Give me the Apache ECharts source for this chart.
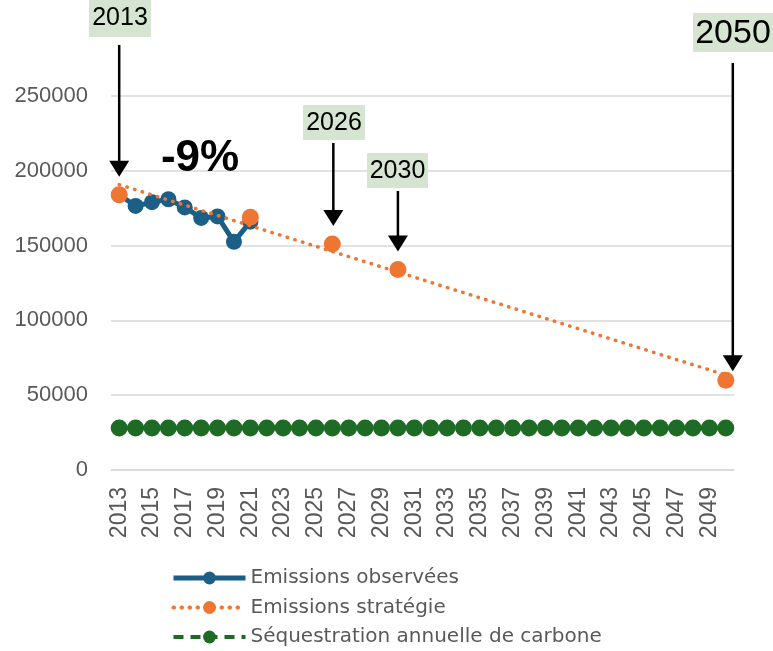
<!DOCTYPE html>
<html><head><meta charset="utf-8">
<script src="https://cdn.jsdelivr.net/npm/echarts@6/dist/echarts.min.js"></script>
<style>html,body{margin:0;padding:0;background:#fff}#c{width:773px;height:651px}</style>
</head><body><div id="c"></div>
<script>
const years = ['2013','2014','2015','2016','2017','2018','2019','2020','2021','2022','2023','2024','2025','2026','2027','2028','2029','2030','2031','2032','2033','2034','2035','2036','2037','2038','2039','2040','2041','2042','2043','2044','2045','2046','2047','2048','2049','2050'];
const observedYears = ['2013','2014','2015','2016','2017','2018','2019','2020','2021'];
const observedValues = [184000,176500,179000,181000,175500,168500,169500,152500,166000];
const strategyYears = ['2013','2021','2026','2030','2050'];
const strategyValues = [184000,169000,151000,134000,60000];
const trendYears = ['2013','2050'];
const trendValues = [190800,63500];
const sequestration = [28000,28000,28000,28000,28000,28000,28000,28000,28000,28000,28000,28000,28000,28000,28000,28000,28000,28000,28000,28000,28000,28000,28000,28000,28000,28000,28000,28000,28000,28000,28000,28000,28000,28000,28000,28000,28000,28000];
const yTicks = [0,50000,100000,150000,200000,250000];
const calloutYears = ['2013','2026','2030','2050'];
const calloutLabels = ['2013','2026','2030','2050'];
const changeLabel = '-9%';

const BLUE = '#1b5f86', ORANGE = '#ee7632', GREEN = '#1d6b25';
const chart = echarts.init(document.getElementById('c'));
const option = {
  animation: false,
  grid: {left: 111, right: 39, top: 96, bottom: 181},
  legend: {
    orient: 'vertical', left: 166, top: 563, height: 100, itemGap: 9.5,
    itemWidth: 72, itemHeight: 16,
    textStyle: {fontFamily: 'DejaVu Sans', fontSize: 20, color: '#595959', lineHeight: 20},
    data: [
      {name: 'Emissions observées', lineStyle: {width: 5}},
      {name: 'Emissions stratégie', lineStyle: {width: 4}},
      {name: 'Séquestration annuelle de carbone', lineStyle: {width: 4}}
    ]
  },
  xAxis: {
    type: 'category', data: years, boundaryGap: true,
    axisLine: {show: true, lineStyle: {color: '#d9d9d9', width: 1.5}},
    axisTick: {show: false},
    axisLabel: {rotate: 90, interval: 1, margin: 17, hideOverlap: false, fontFamily: 'Liberation Sans', fontSize: 23, color: '#595959'}
  },
  yAxis: {
    type: 'value', min: yTicks[0], max: yTicks[yTicks.length-1], interval: yTicks[1]-yTicks[0],
    axisLine: {show: false}, axisTick: {show: false},
    splitLine: {lineStyle: {color: '#d9d9d9', width: 1.5}},
    axisLabel: {margin: 23, fontFamily: 'Liberation Sans', fontSize: 22, color: '#595959', formatter: v => String(v)}
  },
  series: [
    {
      name: 'Séquestration annuelle de carbone', type: 'line',
      data: years.map((y, i) => [y, sequestration[i]]),
      symbol: 'circle', symbolSize: 17, showAllSymbol: true, itemStyle: {color: GREEN},
      lineStyle: {color: GREEN, width: 4, type: [10, 7]}, z: 2
    },
    {
      name: 'Emissions observées', type: 'line',
      data: observedYears.map((y, i) => [y, observedValues[i]]),
      symbol: 'circle', symbolSize: 16, showAllSymbol: true, itemStyle: {color: BLUE},
      lineStyle: {color: BLUE, width: 5}, z: 3
    },
    {
      name: 'Emissions stratégie', type: 'line',
      data: trendYears.map((y, i) => [y, trendValues[i]]),
      symbol: 'circle', symbolSize: 16, showSymbol: false, itemStyle: {color: ORANGE},
      lineStyle: {color: ORANGE, width: 3.5, type: [0.5, 7.5], cap: 'round'}, z: 4
    },
    {
      name: 'Emissions stratégie', type: 'scatter',
      data: strategyYears.map((y, i) => [y, strategyValues[i]]),
      symbol: 'circle', symbolSize: 17, itemStyle: {color: ORANGE, opacity: 1}, z: 5
    }
  ]
};
chart.setOption(option);

// annotation layout (pixels)
const boxes = {
  '2013': {x: 89, y: -2, w: 62, h: 39, font: 25, gap: 8, tipOff: 18, dx: 0},
  '2026': {x: 303, y: 105, w: 62, h: 35, font: 25, gap: 3, tipOff: 18, dx: 1},
  '2030': {x: 367, y: 153, w: 61, h: 35, font: 25, gap: 3, tipOff: 18, dx: 0},
  '2050': {x: 693, y: 13, w: 80, h: 39, font: 34, gap: 11, tipOff: 9, dx: 7}
};
const graphics = [];
calloutYears.forEach((yr, i) => {
  const si = strategyYears.indexOf(yr);
  const p = chart.convertToPixel({seriesIndex: 3}, [yr, strategyValues[si]]);
  const b = boxes[yr];
  const ax = p[0] + b.dx;
  const tip = p[1] - b.tipOff;
  const top = b.y + b.h + b.gap;
  graphics.push({type: 'rect', shape: {x: b.x, y: b.y, width: b.w, height: b.h}, style: {fill: '#d5e5d1'}, z: 10});
  graphics.push({type: 'text', x: b.x + b.w / 2, y: b.y + b.h / 2 + 1, style: {text: calloutLabels[i], font: b.font + 'px "Liberation Sans"', fill: '#000', align: 'center', verticalAlign: 'middle'}, z: 11});
  graphics.push({type: 'line', shape: {x1: ax, y1: top, x2: ax, y2: tip - 14}, style: {stroke: '#000', lineWidth: 2.5}, z: 10});
  graphics.push({type: 'polygon', shape: {points: [[ax - 10, tip - 16], [ax + 10, tip - 16], [ax, tip]]}, style: {fill: '#000'}, z: 10});
});
graphics.push({type: 'text', x: 200, y: 159, style: {text: changeLabel, font: 'bold 44px "Liberation Sans"', fill: '#000', align: 'center', verticalAlign: 'middle'}, z: 11});
chart.setOption({graphic: graphics});
</script>
</body></html>
